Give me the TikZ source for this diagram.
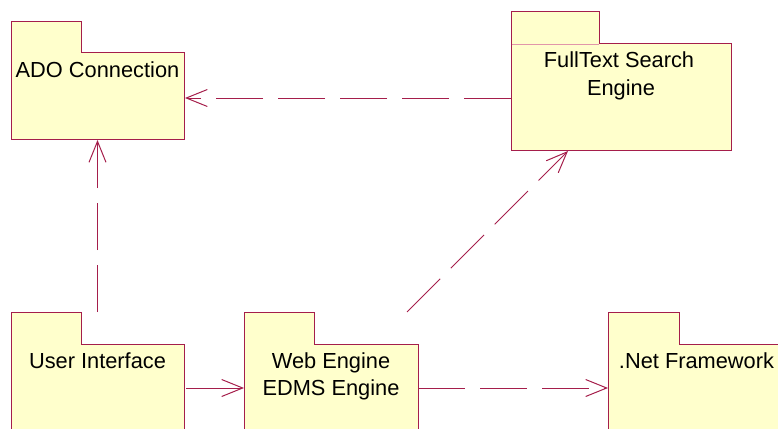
\documentclass[tikz,border=0pt]{standalone}
\usepackage{fontspec}
\setmainfont{Liberation Sans}
\usetikzlibrary{arrows.meta,calc}
\definecolor{pkgline}{RGB}{165,30,75}
\definecolor{pkgfill}{RGB}{255,255,204}
\definecolor{tabline}{RGB}{225,150,170}
\tikzset{
  pkgnode/.style={draw=none,inner sep=0pt,outer sep=0pt,rectangle},
  pkgshape/.style={draw=pkgline,fill=pkgfill,line width=1pt},
  lbl/.style={anchor=base,inner sep=0pt,font=\fontsize{21.8}{26}\selectfont},
  dep/.style={draw=pkgline,line width=1pt,dash pattern=on 47pt off 15pt,-{Straight Barb[length=21pt,width=17pt,line width=1pt]}},
  assoc/.style={draw=pkgline,line width=1pt,-{Straight Barb[length=21pt,width=17pt,line width=1pt]}}
}
\begin{document}
\begin{tikzpicture}[x=1pt,y=-1pt]
\useasboundingbox (0,0) rectangle (778,428);
% package nodes (full bounding box including tab)
\node[pkgnode,minimum width=173pt,minimum height=117pt,anchor=north west] (ado) at (11,22) {};
\node[pkgnode,minimum width=220pt,minimum height=138pt,anchor=north west] (ft) at (511,12) {};
\node[pkgnode,minimum width=173pt,minimum height=152pt,anchor=north west] (ui) at (11,312) {};
\node[pkgnode,minimum width=174pt,minimum height=152pt,anchor=north west] (web) at (244,312) {};
\node[pkgnode,minimum width=177pt,minimum height=152pt,anchor=north west] (net) at (608,312) {};
% folder shapes
\path[pkgshape] (ado.north west) -- ++(70,0) -- ++(0,31) -| (ado.south east) -| cycle;
\path[pkgshape] (ft.north west) -- ++(88,0) -- ++(0,32) -| (ft.south east) -| cycle;
\draw[tabline,line width=0.8pt] ($(ft.north west)+(0.6,32)$) -- ++(87,0);
\path[pkgshape] (ui.north west) -- ++(70,0) -- ++(0,32) -| (ui.south east) -| cycle;
\path[pkgshape] (web.north west) -- ++(70,0) -- ++(0,32) -| (web.south east) -| cycle;
\path[pkgshape] (net.north west) -- ++(71,0) -- ++(0,32) -| (net.south east) -| cycle;
% labels
\node[lbl] (adot) at (97.5,77) {ADO Connection};
\node[lbl] (ftt1) at (619,67) {FullText Search};
\node[lbl] (ftt2) at (621,95) {Engine};
\node[lbl] (uit) at (97.5,368) {User Interface};
\node[lbl] (webt1) at (331,368) {Web Engine};
\node[lbl] (webt2) at (331,395) {EDMS Engine};
\node[lbl] (nett) at (696.5,368) {.Net Framework};
% connectors
\draw[assoc] ($(ui.east)+(2,0)$) -- (web.west);
\draw[dep] (web.east) -- (net.west);
\draw[dep] ($(ft.west)+(0,17)$) -- ($(ado.east)+(1,17.5)$);
\draw[dep] (ui.north) -- ($(ado.south)+(0,1)$);
\draw[dep] ($(web.north)+(76,0)$) -- ($(ft.south)+(-53,1)$);
\end{tikzpicture}
\end{document}
